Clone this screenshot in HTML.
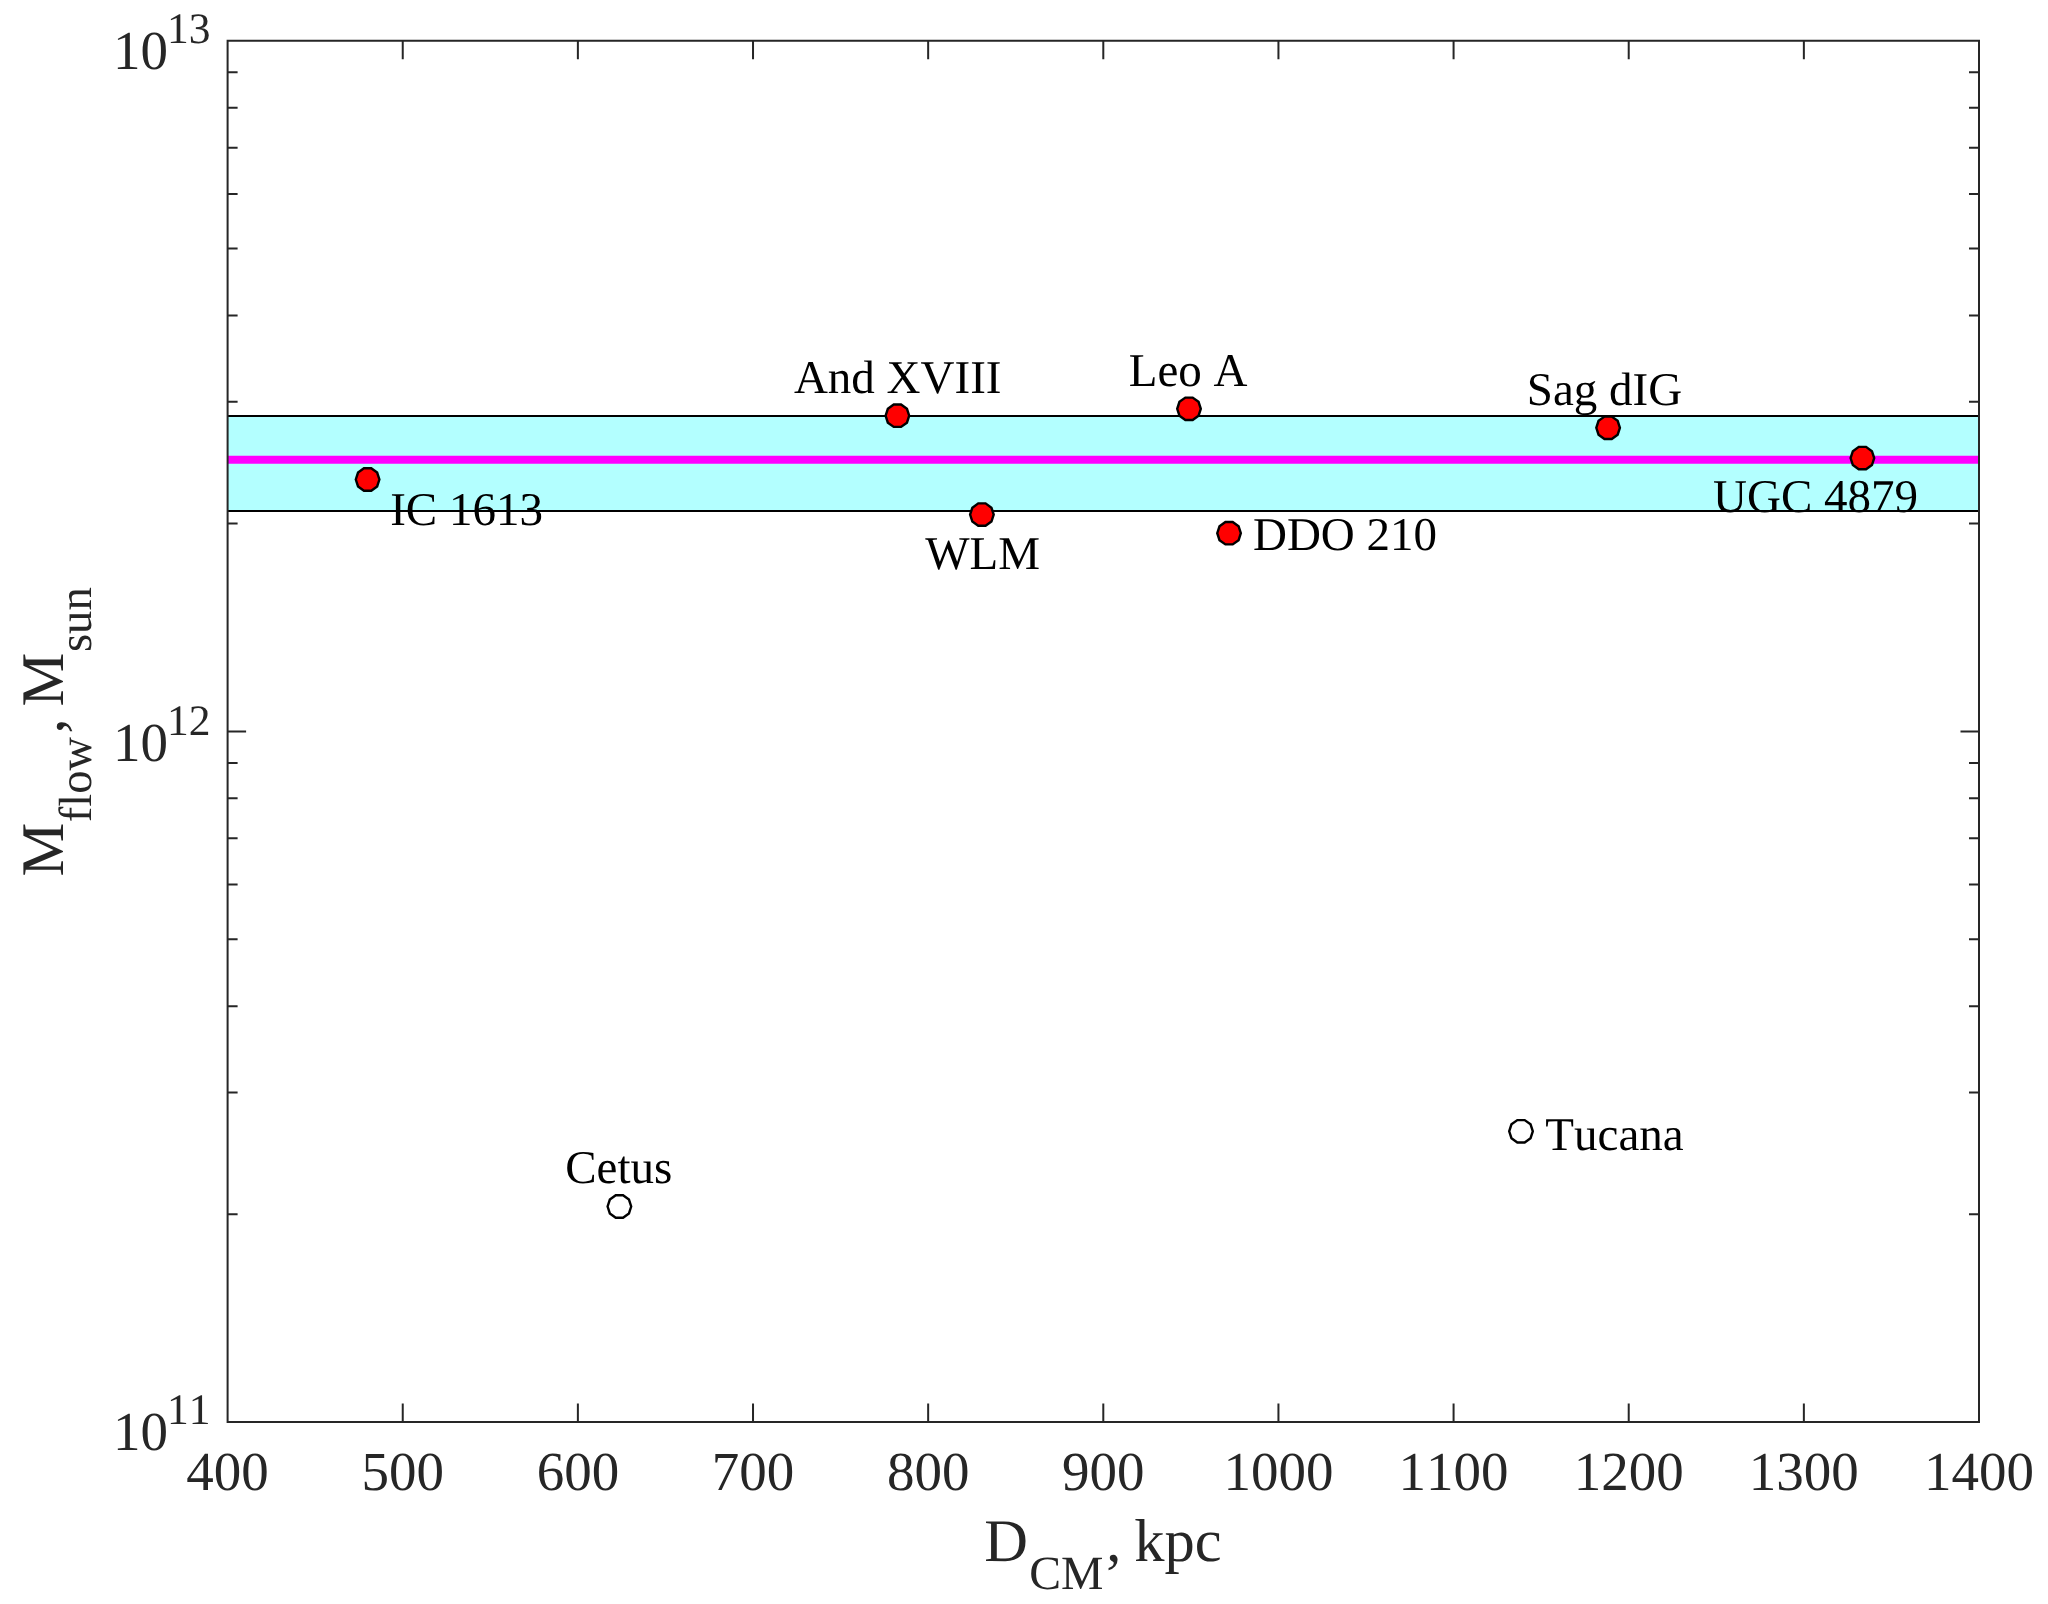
<!DOCTYPE html><html><head><meta charset="utf-8"><style>html,body{margin:0;padding:0;background:#fff;}svg{display:block;text-rendering:geometricPrecision;will-change:transform;font-kerning:none;font-variant-ligatures:none}</style></head><body>
<svg width="2048" height="1604" viewBox="0 0 2048 1604">
<rect x="0" y="0" width="2048" height="1604" fill="#fff"/>
<rect x="227.6" y="416.0" width="1751.4" height="95.0" fill="#b3ffff"/>
<line x1="227.6" y1="416.0" x2="1979.0" y2="416.0" stroke="#000" stroke-width="2"/>
<line x1="227.6" y1="511.0" x2="1979.0" y2="511.0" stroke="#000" stroke-width="2"/>
<line x1="227.6" y1="459.75" x2="1979.0" y2="459.75" stroke="#ff00ff" stroke-width="8"/>
<path d="M227.6 40.7H1979.0V1422.05H227.6ZM227.60 1422.05v-18.5M227.60 40.7v18.5M402.74 1422.05v-18.5M402.74 40.7v18.5M577.88 1422.05v-18.5M577.88 40.7v18.5M753.02 1422.05v-18.5M753.02 40.7v18.5M928.16 1422.05v-18.5M928.16 40.7v18.5M1103.30 1422.05v-18.5M1103.30 40.7v18.5M1278.44 1422.05v-18.5M1278.44 40.7v18.5M1453.58 1422.05v-18.5M1453.58 40.7v18.5M1628.72 1422.05v-18.5M1628.72 40.7v18.5M1803.86 1422.05v-18.5M1803.86 40.7v18.5M1979.00 1422.05v-18.5M1979.00 40.7v18.5M227.6 1422.05h18.5M1979.0 1422.05h-18.5M227.6 731.38h18.5M1979.0 731.38h-18.5M227.6 40.70h18.5M1979.0 40.70h-18.5M227.6 1214.14h10M1979.0 1214.14h-10M227.6 1092.51h10M1979.0 1092.51h-10M227.6 1006.22h10M1979.0 1006.22h-10M227.6 939.29h10M1979.0 939.29h-10M227.6 884.60h10M1979.0 884.60h-10M227.6 838.36h10M1979.0 838.36h-10M227.6 798.31h10M1979.0 798.31h-10M227.6 762.98h10M1979.0 762.98h-10M227.6 523.46h10M1979.0 523.46h-10M227.6 401.84h10M1979.0 401.84h-10M227.6 315.55h10M1979.0 315.55h-10M227.6 248.61h10M1979.0 248.61h-10M227.6 193.93h10M1979.0 193.93h-10M227.6 147.69h10M1979.0 147.69h-10M227.6 107.63h10M1979.0 107.63h-10M227.6 72.30h10M1979.0 72.30h-10" fill="none" stroke="#262626" stroke-width="2" stroke-linecap="butt"/>
<g font-family="Liberation Serif, serif" font-size="55" fill="#262626" text-anchor="middle">
<text x="227.60" y="1490.4">400</text>
<text x="402.74" y="1490.4">500</text>
<text x="577.88" y="1490.4">600</text>
<text x="753.02" y="1490.4">700</text>
<text x="928.16" y="1490.4">800</text>
<text x="1103.30" y="1490.4">900</text>
<text x="1278.44" y="1490.4">1000</text>
<text x="1453.58" y="1490.4">1100</text>
<text x="1628.72" y="1490.4">1200</text>
<text x="1803.86" y="1490.4">1300</text>
<text x="1979.00" y="1490.4">1400</text>
</g>
<g font-family="Liberation Serif, serif" fill="#262626">
<text x="113.1" y="1450.4" font-size="55">10</text><text x="166.9" y="1424.4" font-size="43.5">11</text>
<text x="113.1" y="760.6" font-size="55">10</text><text x="166.9" y="734.6" font-size="43.5">12</text>
<text x="113.1" y="69.1" font-size="55">10</text><text x="166.9" y="43.1" font-size="43.5">13</text>
</g>
<g font-family="Liberation Serif, serif" fill="#262626">
<text x="984.3" y="1560.8" font-size="60.5">D</text><text x="1029.2" y="1589.3" font-size="47.7">CM</text><text x="1106.2" y="1560.6" font-size="60.5">,</text><text x="1134.2" y="1560.6" font-size="60.5">kpc</text>
<g transform="translate(62.7,0) rotate(-90)">
<text x="-876.5" y="0" font-size="60.5">M</text><text x="-822.2" y="28.5" font-size="46.5">flow</text><text x="-733.5" y="0" font-size="60.5">,</text><text x="-706.4" y="0" font-size="60.5">M</text><text x="-652.1" y="28.2" font-size="46.8">sun</text>
</g></g>
<polygon points="379.40,479.50 377.15,486.44 371.25,490.72 363.95,490.72 358.05,486.44 355.80,479.50 358.05,472.56 363.95,468.28 371.25,468.28 377.15,472.56" fill="#ff0000" stroke="#000" stroke-width="2.4"/>
<polygon points="909.20,415.70 906.95,422.64 901.05,426.92 893.75,426.92 887.85,422.64 885.60,415.70 887.85,408.76 893.75,404.48 901.05,404.48 906.95,408.76" fill="#ff0000" stroke="#000" stroke-width="2.4"/>
<polygon points="993.70,514.60 991.45,521.54 985.55,525.82 978.25,525.82 972.35,521.54 970.10,514.60 972.35,507.66 978.25,503.38 985.55,503.38 991.45,507.66" fill="#ff0000" stroke="#000" stroke-width="2.4"/>
<polygon points="1200.80,408.80 1198.55,415.74 1192.65,420.02 1185.35,420.02 1179.45,415.74 1177.20,408.80 1179.45,401.86 1185.35,397.58 1192.65,397.58 1198.55,401.86" fill="#ff0000" stroke="#000" stroke-width="2.4"/>
<polygon points="1240.85,533.20 1238.60,540.14 1232.70,544.42 1225.40,544.42 1219.50,540.14 1217.25,533.20 1219.50,526.26 1225.40,521.98 1232.70,521.98 1238.60,526.26" fill="#ff0000" stroke="#000" stroke-width="2.4"/>
<polygon points="1619.90,427.80 1617.65,434.74 1611.75,439.02 1604.45,439.02 1598.55,434.74 1596.30,427.80 1598.55,420.86 1604.45,416.58 1611.75,416.58 1617.65,420.86" fill="#ff0000" stroke="#000" stroke-width="2.4"/>
<polygon points="1874.20,458.10 1871.95,465.04 1866.05,469.32 1858.75,469.32 1852.85,465.04 1850.60,458.10 1852.85,451.16 1858.75,446.88 1866.05,446.88 1871.95,451.16" fill="#ff0000" stroke="#000" stroke-width="2.4"/>
<polygon points="631.20,1206.50 628.95,1213.44 623.05,1217.72 615.75,1217.72 609.85,1213.44 607.60,1206.50 609.85,1199.56 615.75,1195.28 623.05,1195.28 628.95,1199.56" fill="#ffffff" stroke="#000" stroke-width="2.4"/>
<polygon points="1532.80,1131.30 1530.55,1138.24 1524.65,1142.52 1517.35,1142.52 1511.45,1138.24 1509.20,1131.30 1511.45,1124.36 1517.35,1120.08 1524.65,1120.08 1530.55,1124.36" fill="#ffffff" stroke="#000" stroke-width="2.4"/>
<g font-family="Liberation Serif, serif" font-size="47" fill="#000">
<text x="390.21" y="524.6" xml:space="preserve">IC 1613</text>
<text x="793.93" y="392.5" xml:space="preserve">And XVIII</text>
<text x="1128.74" y="386.4" xml:space="preserve">Leo A</text>
<text x="925.15" y="569.1" xml:space="preserve">WLM</text>
<text x="1252.94" y="549.8" xml:space="preserve">DDO 210</text>
<text x="1526.75" y="404.5" xml:space="preserve">Sag dIG</text>
<text x="1713.11" y="512.2" xml:space="preserve">UGC 4879</text>
<text x="565.27" y="1182.7" xml:space="preserve">Cetus</text>
<text x="1545.35" y="1150.0" xml:space="preserve">Tucana</text>
</g>
</svg></body></html>
